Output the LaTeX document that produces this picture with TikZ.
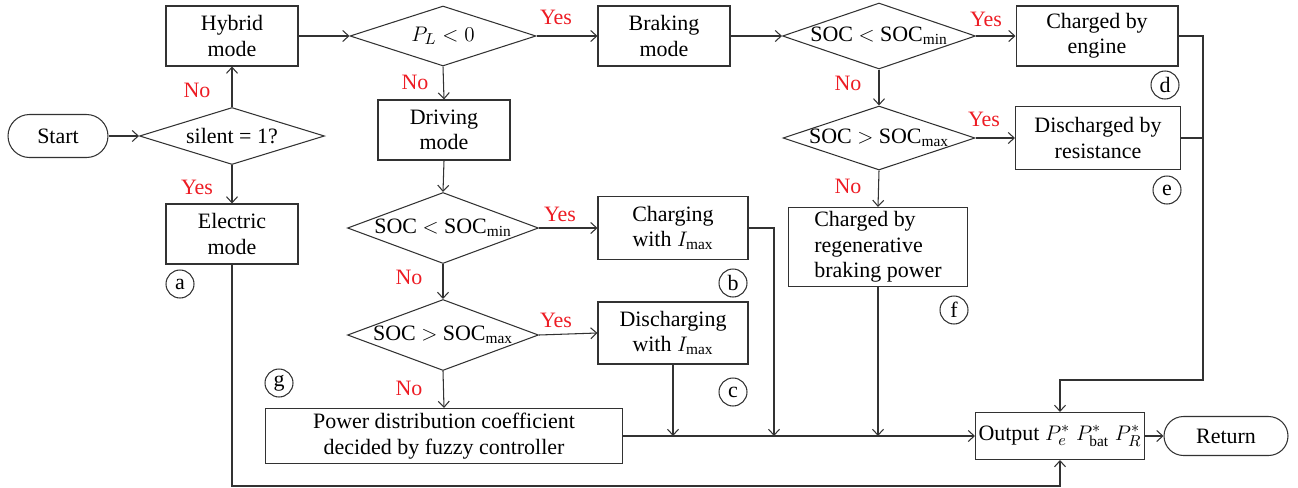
\documentclass[tikz,border=0pt]{standalone}
\usepackage{fontspec}
\setmainfont{Liberation Serif}
\usetikzlibrary{shapes.geometric,arrows.meta}
\definecolor{lblred}{RGB}{237,28,36}
\definecolor{linegray}{RGB}{50,50,50}

\begin{document}
\begin{tikzpicture}[x=0.02cm,y=-0.02cm,>={Straight Barb[length=1.2mm,width=2.2mm]},line width=0.6pt,draw=linegray,
    every node/.style={font=\fontsize{12.5}{14.5}\selectfont},
    box/.style={draw=linegray,minimum width=2.64cm,minimum height=1.2cm,align=center,inner sep=1pt},
    dia/.style={draw=linegray,diamond,inner sep=0pt,minimum width=3.82cm,minimum height=1.42cm},
    term/.style={draw=linegray,rounded corners=0.43cm,minimum width=2cm,minimum height=0.86cm},
    tag/.style={draw=linegray,circle,inner sep=0pt,minimum size=0.56cm},
    yn/.style={text=lblred}]
    \useasboundingbox (0,0) rectangle (1298,487);
    % left column
    \node[term] (start) at (58,136) {Start};
    \node[dia,minimum width=3.7cm,minimum height=1.14cm,label=center:{silent = 1?}] (silent) at (232,136) {};
    \node[box] (hybrid) at (232,36) {Hybrid\\mode};
    \node[box] (electric) at (232,234) {Electric\\mode};
    \node[tag] (ta) at (180,284) {a};
    % driving branch
    \node[dia,minimum width=3.72cm,minimum height=1.2cm,label=center:{$P_L<0$}] (pl) at (443,36) {};
    \node[box] (driving) at (444,130) {Driving\\mode};
    \node[dia,label=center:{SOC $<$ SOC$_{\mathrm{min}}$}] (socminL) at (443,228) {};
    \node[box,minimum width=3cm,minimum height=1.26cm] (charging) at (673,228) {Charging\\with $I_{\mathrm{max}}$};
    \node[tag] (tb) at (733,283) {b};
    \node[dia,label=center:{SOC $>$ SOC$_{\mathrm{max}}$}] (socmaxL) at (443,335) {};
    \node[box,minimum width=3cm,minimum height=1.24cm] (discharging) at (673,333) {Discharging\\with $I_{\mathrm{max}}$};
    \node[tag] (tc) at (733,392) {c};
    \node[tag] (tg) at (279,383) {g};
    \node[box,minimum width=7.16cm,minimum height=1.1cm] (fuzzy) at (444,436) {Power distribution coefficient\\decided by fuzzy controller};
    % braking branch
    \node[box] (braking) at (664,36) {Braking\\mode};
    \node[dia,minimum width=3.86cm,minimum height=1.32cm,label=center:{SOC $<$ SOC$_{\mathrm{min}}$}] (socminR) at (879,36) {};
    \node[box,minimum width=3.24cm] (engine) at (1097,36) {Charged by\\engine};
    \node[tag] (td) at (1165,85) {d};
    \node[dia,minimum width=3.84cm,minimum height=1.28cm,label=center:{SOC $>$ SOC$_{\mathrm{max}}$}] (socmaxR) at (879,138) {};
    \node[box,minimum width=3.3cm,minimum height=1.26cm] (resist) at (1098,138) {Discharged by\\resistance};
    \node[tag] (te) at (1167,190) {e};
    \node[box,minimum width=3.58cm,minimum height=1.58cm,align=left] (regen) at (878,247) {Charged by\\regenerative\\braking power};
    \node[tag] (tf) at (954,310) {f};
    % output
    \node[box,minimum width=3.38cm,minimum height=0.94cm] (output) at (1060,436) {Output $P_e^*\;P_{\mathrm{bat}}^*\;P_R^*$};
    \node[term,minimum width=2.48cm,minimum height=0.78cm,rounded corners=0.39cm] (return) at (1226,436) {Return};
    \coordinate (jr) at (1203,380);
    \coordinate (jc) at (774,436);
    \coordinate (jb) at (232,486);
    % yes / no
    \node[yn] (no1) at (197,90) {No};
    \node[yn] (yes1) at (197,187) {Yes};
    \node[yn] (yes2) at (556,17) {Yes};
    \node[yn] (no2) at (415,82) {No};
    \node[yn] (yes3) at (560,214) {Yes};
    \node[yn] (no3) at (409,277) {No};
    \node[yn] (yes4) at (556,320) {Yes};
    \node[yn] (no4) at (409,388) {No};
    \node[yn] (yes5) at (986,19) {Yes};
    \node[yn] (no5) at (848,83) {No};
    \node[yn] (yes6) at (984,119) {Yes};
    \node[yn] (no6) at (848,186) {No};
    % connectors
    \draw[->] (start) -- (silent.west);
    \draw[->] (silent.north) -- (hybrid.south);
    \draw[->] (silent.south) -- (electric.north);
    \draw[->] (hybrid.east) -- (pl.west);
    \draw[->] (pl.east) -- (braking.west);
    \draw[->] (pl.south) -- (driving.north);
    \draw[->] (driving.south) -- (socminL.north);
    \draw[->] (socminL.east) -- (charging.west);
    \draw[->] (socminL.south) -- (socmaxL.north);
    \draw[->] (socmaxL.east) -- (discharging.west);
    \draw[->] (socmaxL.south) -- (fuzzy.north);
    \draw[->] (braking.east) -- (socminR.west);
    \draw[->] (socminR.east) -- (engine.west);
    \draw[->] (socminR.south) -- (socmaxR.north);
    \draw[->] (socmaxR.east) -- (resist.west);
    \draw[->] (socmaxR.south) -- (regen.north);
    \draw[->] (engine.east) -| (jr) -| (output.north);
    \draw (resist.east) -- (resist.east -| jr);
    \draw[->] (fuzzy.east) -- (output.west);
    \draw[->] (discharging.south) -- (discharging.south |- fuzzy.east);
    \draw[->] (charging.east) -| (jc);
    \draw[->] (regen.south) -- (regen.south |- output.west);
    \draw[->] (electric.south) -- (jb) -| (output.south);
    \draw[->] (output.east) -- (return.west);
\end{tikzpicture}
\end{document}
